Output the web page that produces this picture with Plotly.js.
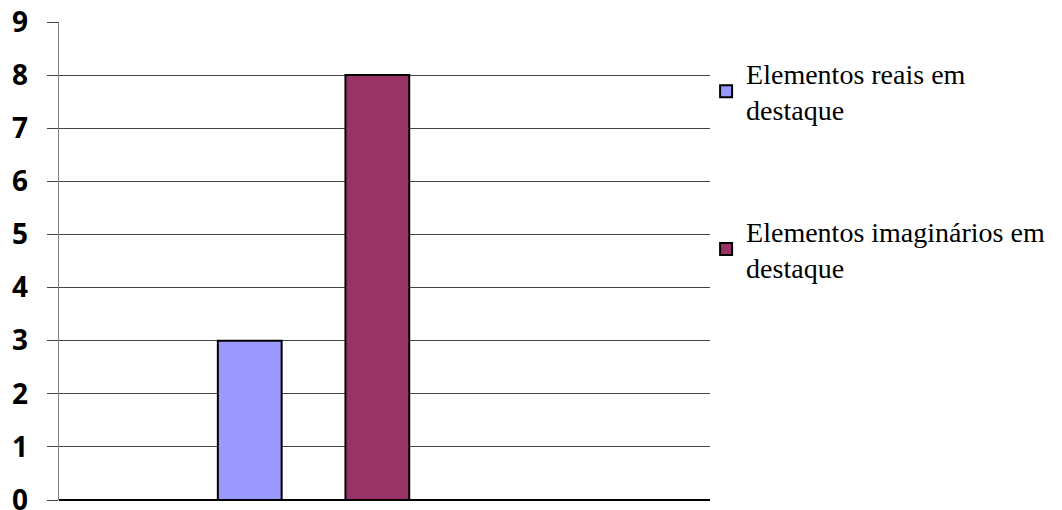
<!DOCTYPE html>
<html>
<head>
<meta charset="utf-8">
<script src="https://cdn.plot.ly/plotly-3.0.1.min.js"></script>
<style>html,body{margin:0;padding:0;background:#fff;}#chart{width:1062px;height:510px;}</style>
</head>
<body>
<div id="chart"></div>
<script>
const category = [""];
const seriesNames = ["Elementos reais em<br>destaque", "Elementos imaginários em<br>destaque"];
const realValues = [3];
const imaginaryValues = [8];
const seriesColors = ["#9999FF", "#993366"];
const yTicks = [0, 1, 2, 3, 4, 5, 6, 7, 8, 9];

const traces = [
  {type: "bar", x: category, y: realValues, name: seriesNames[0], legendgroup: "a",
   marker: {color: seriesColors[0], line: {color: "#000", width: 2}}, hoverinfo: "y"},
  {type: "bar", x: category, y: imaginaryValues, name: seriesNames[1], legendgroup: "b",
   marker: {color: seriesColors[1], line: {color: "#000", width: 2}}, hoverinfo: "y"}
];

const layout = {
  width: 1062, height: 510,
  margin: {l: 59, r: 352, t: 22, b: 10},
  paper_bgcolor: "#fff", plot_bgcolor: "#fff",
  barmode: "group", bargap: 0.608, bargroupgap: 0.5,
  showlegend: true,
  xaxis: {type: "category", range: [-0.391, 0.609], showticklabels: false, showgrid: false,
          zeroline: false, showline: false, ticks: "", fixedrange: true},
  yaxis: {range: [0, 9], tickvals: yTicks, ticktext: yTicks.map(String),
          showgrid: true, gridcolor: "#444", gridwidth: 1,
          ticks: "outside", ticklen: 11, tickcolor: "#444", tickwidth: 1,
          showline: true, linecolor: "#808080", linewidth: 1.5,
          zeroline: true, zerolinecolor: "#000", zerolinewidth: 1.5,
          ticklabelstandoff: 13, ticklabeloverflow: "allow",
          tickfont: {family: "'Open Sans', sans-serif", size: 28, color: "#000", weight: "bold"}},
  legend: {x: 0.994, xanchor: "left", y: 0.945, yanchor: "top",
           font: {family: "'Liberation Serif', 'Times New Roman', serif", size: 28, color: "#000"},
           tracegroupgap: 82, bgcolor: "rgba(0,0,0,0)", itemclick: false}
};

Plotly.newPlot("chart", traces, layout, {displayModeBar: false, staticPlot: true});
</script>
</body>
</html>
